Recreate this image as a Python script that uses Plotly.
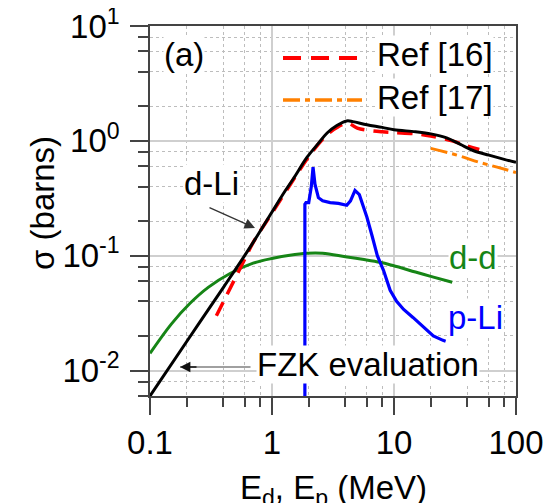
import plotly.graph_objects as go

# ---- data ----
dli_E = [0.1, 0.2, 0.4, 0.66, 1.0, 1.23, 1.5, 1.94, 2.4, 2.83, 3.4, 4.1, 4.6, 6, 8, 10, 15, 20, 27, 35, 45, 60, 80, 100]
dli_s = [0.006, 0.0179, 0.053, 0.118, 0.24, 0.343, 0.47, 0.72, 0.95, 1.17, 1.36, 1.49, 1.47, 1.38, 1.31, 1.25, 1.2, 1.15, 1.06, 0.93, 0.82, 0.75, 0.69, 0.65]

ref16_E = [0.35, 0.45, 0.58, 0.7, 1.0, 1.5, 2.0, 2.8, 3.5, 4.2, 5.0, 6.0, 8.0, 10, 15, 20, 30, 40, 50]
ref16_s = [0.030, 0.051, 0.0875, 0.13, 0.235, 0.46, 0.73, 1.12, 1.33, 1.42, 1.29, 1.24, 1.2, 1.18, 1.15, 1.1, 1.0, 0.9, 0.84]

ref17_E = [20, 33, 50, 70, 100]
ref17_s = [0.86, 0.75, 0.65, 0.59, 0.53]

dd_E = [0.1, 0.15, 0.213, 0.3, 0.453, 0.7, 1.02, 1.4, 1.94, 2.6, 4.0, 5.5, 7.7, 9.8, 15, 20, 30]
dd_s = [0.0141, 0.0255, 0.0385, 0.053, 0.070, 0.086, 0.095, 0.101, 0.105, 0.105, 0.098, 0.093, 0.0875, 0.082, 0.072, 0.066, 0.0586]

pli_E = [1.86, 1.86, 1.9, 2.0, 2.1, 2.17, 2.25, 2.4, 2.6, 3.0, 3.5, 4.1, 4.4, 4.79, 5.2, 6.0, 6.6, 7.3, 8.2, 9.3, 10.5, 12, 14.3, 16, 18.6, 21, 25.2, 26.5]
pli_s = [0.001, 0.28, 0.29, 0.29, 0.40, 0.59, 0.42, 0.32, 0.30, 0.29, 0.285, 0.275, 0.30, 0.37, 0.34, 0.216, 0.15, 0.10, 0.0746, 0.050, 0.040, 0.034, 0.029, 0.026, 0.0224, 0.020, 0.0183, 0.018]

x_ticks = [0.1, 1, 10, 100]
x_ticktext = ["0.1", "1", "10", "100"]
y_ticks = [0.01, 0.1, 1, 10]
y_ticktext = ["10<sup>-2</sup>", "10<sup>-1</sup>", "10<sup>0</sup>", "10<sup>1</sup>"]
x_minor = [m * d for d in (0.1, 1, 10) for m in (2, 4, 6, 8)]
y_minor = [m * d for d in (0.001, 0.01, 0.1, 1) for m in (2, 4, 6, 8)]

legend_names = ["Ref [16]", "Ref [17]"]

# ---- layout: page is offset by the default 8px body margin ----
OFF = 8
PAGE_W, PAGE_H = 558, 503
PLOT_L, PLOT_R, PLOT_T, PLOT_B = 150, 516, 26, 396  # plot area in page pixels
W, H = PAGE_W - OFF, PAGE_H - OFF
L, T = PLOT_L - OFF, PLOT_T - OFF
R, B = W - (PLOT_R - OFF), H - (PLOT_B - OFF)
PW, PH = PLOT_R - PLOT_L, PLOT_B - PLOT_T


def px(x):
    return (x - PLOT_L) / PW


def py(y):
    return (PLOT_B - y) / PH


FONT = "Liberation Sans, Arial, sans-serif"
FS = 33

fig = go.Figure()
fig.add_trace(go.Scatter(x=dd_E, y=dd_s, mode="lines", line=dict(color="#168516", width=3, shape="spline"), showlegend=False))
fig.add_trace(go.Scatter(x=pli_E, y=pli_s, mode="lines", line=dict(color="#0000ff", width=3.2), showlegend=False))
fig.add_trace(go.Scatter(x=ref16_E, y=ref16_s, mode="lines", name=legend_names[0],
                         line=dict(color="#ff0000", width=3.5, dash="15px,9px", shape="spline"), showlegend=False))
fig.add_trace(go.Scatter(x=ref17_E, y=ref17_s, mode="lines", name=legend_names[1],
                         line=dict(color="#ff8000", width=3, dash="17px,5px,5px,5px", shape="spline"), showlegend=False))
fig.add_trace(go.Scatter(x=dli_E, y=dli_s, mode="lines", line=dict(color="#000000", width=3, shape="spline"), showlegend=False))

axis_common = dict(
    type="log", showline=True, linecolor="#444", linewidth=1.5, mirror=True, automargin=False,
    ticks="outside", tickcolor="#444", tickwidth=1.5, ticklabeloverflow="allow",
    showgrid=True, gridcolor="#cfcfcf", gridwidth=1.5, zeroline=False,
    tickfont=dict(family=FONT, size=FS, color="#000"),
)

fig.update_xaxes(**axis_common, range=[-1, 2], tickmode="array", tickvals=x_ticks, ticktext=x_ticktext,
                 ticklen=17, ticklabelstandoff=0,
                 minor=dict(tickvals=x_minor, ticks="outside", ticklen=9, tickcolor="#444", tickwidth=1.5,
                            showgrid=True, gridcolor="#bdbdbd", griddash="dot", gridwidth=1))
fig.update_yaxes(**axis_common, range=[-2.222, 1], tickmode="array", tickvals=y_ticks, ticktext=y_ticktext,
                 ticklen=18, ticklabelstandoff=4,
                 minor=dict(tickvals=y_minor, ticks="outside", ticklen=10, tickcolor="#444", tickwidth=1.5,
                            showgrid=True, gridcolor="#bdbdbd", griddash="dot", gridwidth=1))

ann = []


def label(text, x, y, color="#000", xanchor="center", bg="white"):
    ann.append(dict(text=text, x=px(x), y=py(y), xref="paper", yref="paper", showarrow=False,
                    xanchor=xanchor, yanchor="middle", bgcolor=bg, borderpad=0,
                    font=dict(family=FONT, size=FS, color=color)))


label("(a)", 184, 54)
label("d-Li", 211, 183)
label("d-d", 473, 257, color="#168516")
label("p-Li", 475, 317, color="#0000ff")
label("FZK evaluation", 256, 364, xanchor="left")
label(legend_names[0], 376, 55, xanchor="left")
label(legend_names[1], 376, 97, xanchor="left")

# arrows
ann.append(dict(text="", x=px(255), y=py(228), xref="paper", yref="paper", showarrow=True,
                ax=-47, ay=-21, arrowhead=2, arrowsize=1.6, arrowwidth=1.3, arrowcolor="#333"))
ann.append(dict(text="", x=px(180), y=py(367), xref="paper", yref="paper", showarrow=True,
                ax=72, ay=0, arrowhead=0, arrowwidth=2, arrowcolor="#a0a0a0"))
ann.append(dict(text="", x=px(180), y=py(367), xref="paper", yref="paper", showarrow=True,
                ax=18, ay=0, arrowhead=2, arrowsize=1.6, arrowwidth=1.3, arrowcolor="#111"))

# axis titles
ann.append(dict(text="E<sub>d</sub>, E<sub>p</sub> (MeV)", x=px(333), y=py(490), xref="paper", yref="paper",
                showarrow=False, xanchor="center", yanchor="middle",
                font=dict(family=FONT, size=FS, color="#000")))
ann.append(dict(text="σ (barns)", x=px(42), y=py(203), xref="paper", yref="paper", textangle=-90,
                showarrow=False, xanchor="center", yanchor="middle",
                font=dict(family=FONT, size=FS, color="#000")))

# legend samples (paper-space styling)
shapes = [
    dict(type="line", xref="paper", yref="paper", x0=px(283), x1=px(357), y0=py(58), y1=py(58),
         line=dict(color="#ff0000", width=4, dash="18px,10px")),
    dict(type="line", xref="paper", yref="paper", x0=px(283), x1=px(362), y0=py(100), y1=py(100),
         line=dict(color="#ff8000", width=3.5, dash="17px,5px,5px,5px")),
]

fig.update_layout(
    width=W, height=H, margin=dict(l=L, r=R, t=T, b=B, autoexpand=False),
    paper_bgcolor="white", plot_bgcolor="white",
    showlegend=False, annotations=ann, shapes=shapes,
    font=dict(family=FONT, size=FS, color="#000"),
)

fig.write_html("out.html")
